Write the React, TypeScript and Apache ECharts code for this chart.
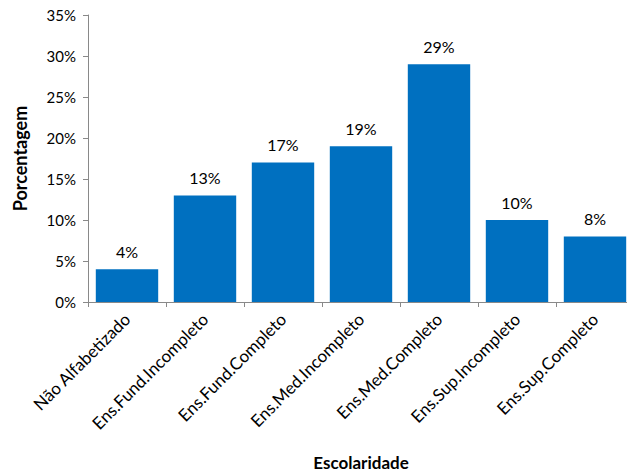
import React, { useEffect, useRef } from "react";
import * as echarts from "echarts";

const categories = [
  "Não Alfabetizado",
  "Ens.Fund.Incompleto",
  "Ens.Fund.Completo",
  "Ens.Med.Incompleto",
  "Ens.Med.Completo",
  "Ens.Sup.Incompleto",
  "Ens.Sup.Completo",
];
const values = [4, 13, 17, 19, 29, 10, 8];

export default function App() {
  const ref = useRef<HTMLDivElement>(null);
  useEffect(() => {
    if (!ref.current) return;
    const chart = echarts.init(ref.current, null, { renderer: "svg" });
    const font = "Lato, 'Open Sans', sans-serif";
    const axisColor = "#898989";
    chart.setOption({
      animation: false,
      textStyle: { fontFamily: font },
      grid: {
        left: 88,
        right: -7,
        top: 15,
        bottom: 174,
        containLabel: false,
        outerBoundsMode: "none",
      },
      xAxis: {
        type: "category",
        data: categories,
        name: "Escolaridade",
        nameLocation: "middle",
        nameGap: 152,
        nameTextStyle: { fontFamily: font, fontSize: 17, fontWeight: "bold", color: "#000" },
        axisLine: { lineStyle: { color: axisColor } },
        axisTick: { show: true, length: 5, lineStyle: { color: axisColor } },
        axisLabel: { rotate: 45, fontSize: 17, color: "#000", margin: 14, interval: 0, fontFamily: font },
      },
      yAxis: {
        type: "value",
        min: 0,
        max: 35,
        interval: 5,
        name: "Porcentagem",
        nameLocation: "middle",
        nameGap: 59,
        nameRotate: 90,
        nameTextStyle: { fontFamily: font, fontSize: 18, fontWeight: "bold", color: "#000" },
        axisLine: { show: true, lineStyle: { color: axisColor } },
        axisTick: { show: true, length: 5, lineStyle: { color: axisColor } },
        splitLine: { show: false },
        axisLabel: { formatter: "{value}%", fontSize: 15, color: "#000", margin: 12, fontFamily: font },
      },
      series: [
        {
          type: "bar",
          data: values,
          barCategoryGap: "20%",
          itemStyle: { color: "#0070C0" },
          label: {
            show: true,
            position: "top",
            distance: 10,
            formatter: "{c}%",
            fontSize: 16,
            color: "#000",
            fontFamily: font,
          },
        },
      ],
    });
    return () => chart.dispose();
  }, []);
  return (
    <div
      ref={ref}
      style={{ position: "fixed", left: 0, top: 0, width: 627, height: 476, background: "#fff" }}
    />
  );
}
